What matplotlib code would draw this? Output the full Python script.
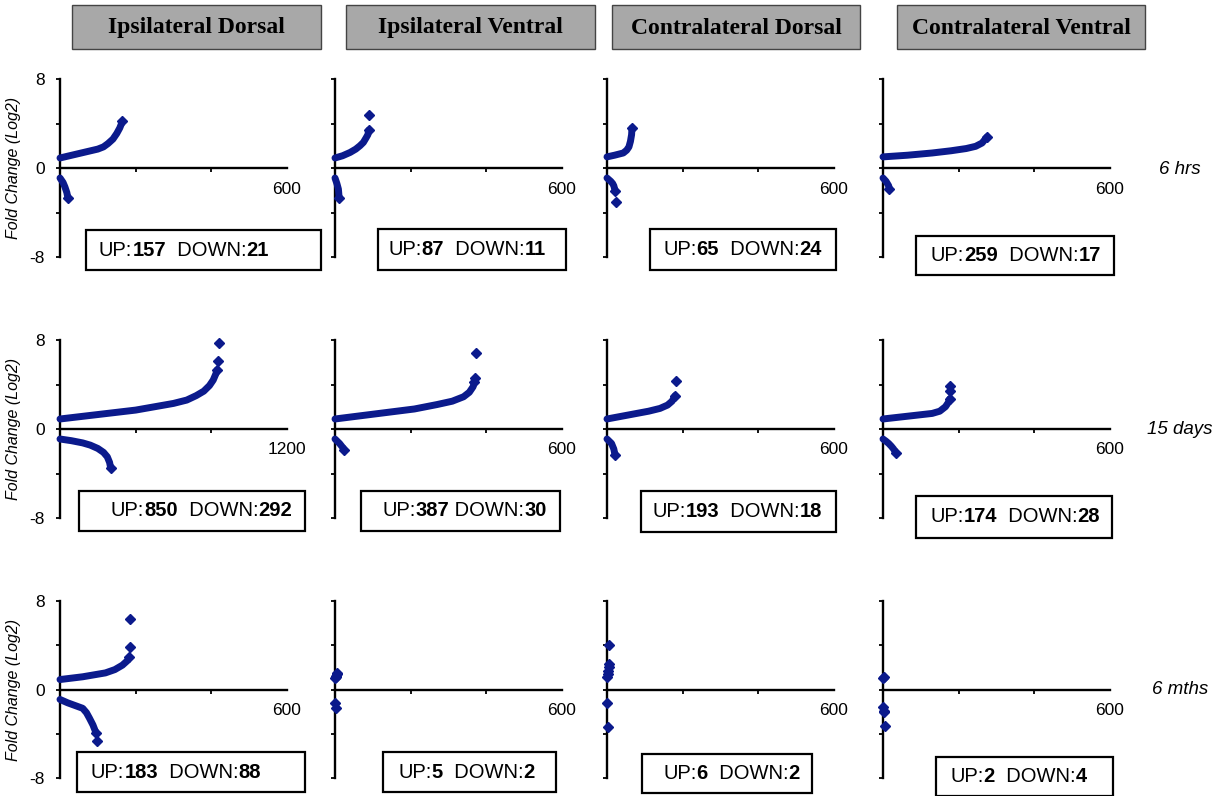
import matplotlib
matplotlib.use("Agg")
import matplotlib.pyplot as plt
from matplotlib.patches import Rectangle
from matplotlib.text import Annotation

# ---------------- data ----------------
columns = ['Ipsilateral Dorsal', 'Ipsilateral Ventral', 'Contralateral Dorsal', 'Contralateral Ventral']
timepoints = ['6 hrs', '15 days', '6 mths']
up_counts = [[157, 87, 65, 259], [850, 387, 193, 174], [183, 5, 6, 2]]
down_counts = [[21, 11, 24, 17], [292, 30, 18, 28], [88, 2, 2, 4]]
x_max = [[600, 600, 600, 600], [1200, 600, 600, 600], [600, 600, 600, 600]]

# sorted log2 fold-change curves: (rank, log2 FC)
# 6 hrs
h6_ID_up = [(0, 0.9), (25, 1.1), (50, 1.3), (75, 1.5), (100, 1.7), (115, 1.9), (127, 2.2),
            (140, 2.6), (150, 3.1), (158, 3.6), (165, 4.2)]
h6_ID_dn = [(0, -0.9), (4, -1.1), (8, -1.3), (13, -1.7), (18, -2.2), (21, -2.7)]
h6_IV_up = [(0, 0.9), (20, 1.1), (40, 1.4), (55, 1.7), (66, 2.0), (75, 2.3), (82, 2.7),
            (87, 3.0), (89, 3.4)]
h6_IV_up_out = [(90, 4.8)]
h6_IV_dn = [(0, -0.9), (5, -1.4), (9, -1.9), (11, -2.7)]
h6_CD_up = [(0, 1.0), (20, 1.15), (43, 1.35), (52, 1.6), (58, 1.9), (62, 2.4), (65, 3.0), (66, 3.6)]
h6_CD_dn = [(0, -0.9), (5, -1.05), (10, -1.2), (15, -1.4), (18, -1.6), (22, -2.1)]
h6_CD_dn_out = [(24, -3.1)]
h6_CV_up = [(0, 1.0), (65, 1.15), (130, 1.35), (180, 1.55), (220, 1.75), (245, 1.95),
            (262, 2.25), (275, 2.8)]
h6_CV_dn = [(0, -0.9), (8, -1.2), (15, -1.6), (17, -1.9)]
# 15 days
d15_ID_up = [(0, 0.9), (100, 1.1), (200, 1.3), (300, 1.5), (400, 1.7), (500, 2.0), (600, 2.3),
             (670, 2.6), (720, 3.0), (760, 3.4), (790, 3.9), (810, 4.4), (825, 5.0), (830, 5.3)]
d15_ID_up_out = [(835, 6.1), (840, 7.7)]
d15_ID_dn = [(0, -0.9), (60, -1.05), (120, -1.25), (160, -1.45), (200, -1.75), (230, -2.1),
             (250, -2.5), (262, -3.0), (268, -3.5)]
d15_IV_up = [(0, 0.9), (70, 1.2), (140, 1.5), (210, 1.8), (270, 2.2), (310, 2.5), (340, 2.9),
             (355, 3.3), (365, 3.8), (368, 4.2)]
d15_IV_up_out = [(370, 4.6), (372, 6.8)]
d15_IV_dn = [(0, -0.9), (6, -1.1), (12, -1.3), (19, -1.6), (25, -1.9)]
d15_CD_up = [(0, 0.9), (55, 1.25), (110, 1.6), (140, 1.85), (160, 2.15), (172, 2.5), (180, 3.0)]
d15_CD_up_out = [(182, 4.3)]
d15_CD_dn = [(0, -0.9), (6, -1.1), (12, -1.3), (18, -1.8), (21, -2.3)]
d15_CV_up = [(0, 0.9), (65, 1.15), (130, 1.4), (150, 1.6), (165, 2.0), (173, 2.4), (176, 2.7)]
d15_CV_up_out = [(177, 3.4), (178, 3.9)]
d15_CV_dn = [(0, -0.9), (8, -1.1), (15, -1.3), (22, -1.55), (28, -1.8), (35, -2.2)]
# 6 months
m6_ID_up = [(0, 0.9), (60, 1.15), (120, 1.5), (145, 1.8), (165, 2.2), (178, 2.6), (183, 2.9)]
m6_ID_up_out = [(185, 3.8), (186, 6.4)]
m6_ID_dn = [(0, -0.9), (20, -1.2), (40, -1.45), (60, -1.7), (70, -2.1), (78, -2.6),
            (87, -3.2), (95, -3.9)]
m6_ID_dn_out = [(97, -4.7)]
m6_IV_pts = [(1, 1.0), (2, 1.1), (3, 1.2), (4, 1.4), (5, 1.5), (1, -1.2), (2, -1.7)]
m6_CD_pts = [(1, 1.1), (2, 1.4), (3, 1.7), (4, 2.0), (5, 2.3), (6, 4.0), (1, -1.2), (2, -3.4)]
m6_CV_pts = [(1, 1.0), (2, 1.1), (1, -1.6), (2, -1.9), (3, -2.0), (4, -3.3)]

curves = [
    [(h6_ID_up, [], h6_ID_dn, []), (h6_IV_up, h6_IV_up_out, h6_IV_dn, []),
     (h6_CD_up, [], h6_CD_dn, h6_CD_dn_out), (h6_CV_up, [], h6_CV_dn, [])],
    [(d15_ID_up, d15_ID_up_out, d15_ID_dn, []), (d15_IV_up, d15_IV_up_out, d15_IV_dn, []),
     (d15_CD_up, d15_CD_up_out, d15_CD_dn, []), (d15_CV_up, d15_CV_up_out, d15_CV_dn, [])],
    [(m6_ID_up, m6_ID_up_out, m6_ID_dn, m6_ID_dn_out), ([], m6_IV_pts, [], []),
     ([], m6_CD_pts, [], []), ([], m6_CV_pts, [], [])],
]

# ---------------- layout (pixels) ----------------
W, H = 1225, 796
col_x0 = [60, 335, 607, 883]
ax_w = 227
row_tb = [(79, 257), (340, 518), (601, 778)]
header_x = [(72, 321), (346, 595), (612, 860), (897, 1145)]
header_y = (5, 49)
stat_boxes = [
    [(86, 321, 230, 270), (378, 566, 229, 270), (650, 836, 229, 270), (916, 1114, 236, 275)],
    [(79, 305, 491, 531), (361, 560, 491, 531), (641, 836, 491, 532), (916, 1112, 496, 538)],
    [(77, 305, 752, 792), (383, 556, 752, 792), (642, 812, 754, 793), (936, 1113, 757, 796)],
]
stat_text_x = [[99, 388, 663, 931], [111, 382, 652, 930], [91, 398, 663, 950]]
time_y = [170, 430, 690]

BLUE = '#0b1a8c'
plt.rcParams['font.family'] = ['Liberation Sans', 'DejaVu Sans']

fig = plt.figure(figsize=(W / 100, H / 100), dpi=100)


def fx(px):
    return px / W


def fy(py):
    return 1 - py / H


def rich_text(x, y, parts, size):
    t = fig.text(fx(x), fy(y), parts[0][0], fontweight=parts[0][1], fontsize=size,
                 ha='left', va='center')
    for s, w in parts[1:]:
        a = Annotation(s, xy=(1, 0), xycoords=t, ha='left', va='bottom',
                       fontweight=w, fontsize=size)
        fig.add_artist(a)
        t = a


for r in range(3):
    top, bot = row_tb[r]
    for c in range(4):
        xm = x_max[r][c]
        ax = fig.add_axes([fx(col_x0[c]), fy(bot), fx(ax_w), (bot - top) / H])
        ax.set_xlim(0, xm)
        ax.set_ylim(-8, 8)
        for s in ['top', 'right']:
            ax.spines[s].set_visible(False)
        ax.spines['bottom'].set_position(('data', 0))
        ax.spines['left'].set_linewidth(1.7)
        ax.spines['bottom'].set_linewidth(1.7)
        ax.set_xticks([xm / 3, 2 * xm / 3])
        ax.set_xticklabels([])
        ax.set_yticks([-8, -4, 0, 4, 8])
        if c == 0:
            ax.set_yticklabels(['-8', '', '0', '', '8'], fontsize=12.5)
        else:
            ax.set_yticklabels([])
        ax.tick_params(axis='both', direction='out', length=3, width=1.3, pad=8)
        ax.annotate(str(xm), xy=(xm, 0), xytext=(0, -21), textcoords='offset pixels',
                    ha='center', va='center', fontsize=12.5, annotation_clip=False)
        if c == 0:
            ax.set_ylabel('Fold Change (Log2)', fontsize=11.5, fontstyle='italic', labelpad=6)
        up, up_out, dn, dn_out = curves[r][c]
        for seg in (up, dn):
            if seg:
                xs = [p[0] for p in seg]
                ys = [p[1] for p in seg]
                ax.plot(xs, ys, color=BLUE, lw=5.0, solid_capstyle='round',
                        solid_joinstyle='round', clip_on=False, zorder=3)
                ax.plot(xs[-1:], ys[-1:], 'D', color=BLUE, ms=5, clip_on=False, zorder=3)
        for seg in (up_out, dn_out):
            if seg:
                ax.plot([p[0] for p in seg], [p[1] for p in seg], 'D', color=BLUE,
                        ms=5, clip_on=False, zorder=3)

        # stat box
        x0, x1, y0, y1 = stat_boxes[r][c]
        fig.add_artist(Rectangle((fx(x0), fy(y1)), fx(x1 - x0), (y1 - y0) / H,
                                 transform=fig.transFigure, fill=False,
                                 edgecolor='black', lw=1.6))
        sep = ' ' if (r == 1 and c == 1) else '  '
        rich_text(stat_text_x[r][c], (y0 + y1) / 2,
                  [('UP:', 'normal'), (str(up_counts[r][c]), 'bold'),
                   (sep + 'DOWN:', 'normal'), (str(down_counts[r][c]), 'bold')], 14.5)

# headers
for c in range(4):
    x0, x1 = header_x[c]
    y0, y1 = header_y
    fig.add_artist(Rectangle((fx(x0), fy(y1)), fx(x1 - x0), (y1 - y0) / H,
                             transform=fig.transFigure, facecolor='#a8a8a8',
                             edgecolor='#444444', lw=1.0))
    fig.text(fx((x0 + x1) / 2), fy((y0 + y1) / 2 + 1), columns[c], ha='center', va='center',
             fontsize=17, fontweight='bold', family=['Liberation Serif', 'DejaVu Serif'])

for r in range(3):
    fig.text(fx(1180), fy(time_y[r]), timepoints[r], ha='center', va='center',
             fontsize=13.5, fontstyle='italic')

fig.savefig('out.png', dpi=100)
